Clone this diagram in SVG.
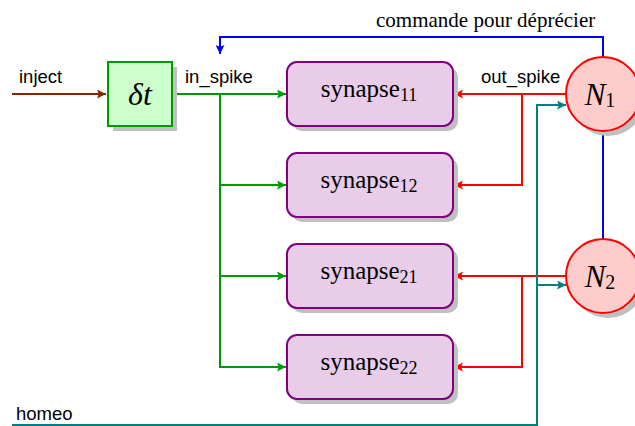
<svg xmlns="http://www.w3.org/2000/svg" width="635" height="426" viewBox="0 0 635 426">
<style>
.sans{font-family:"Liberation Sans",Arial,sans-serif;font-size:18.5px;fill:#000}
.serif{font-family:"Liberation Serif","Times New Roman",serif;fill:#000}
.syn{fill:#e8cce8;stroke:#800080;stroke-width:2}
.shadow{fill:#c0c0c0}
.neu{fill:#ffcccc;stroke:#ff0000;stroke-width:2}
.g{stroke:#009900;stroke-width:2;fill:none}
.r{stroke:#ff0000;stroke-width:2;fill:none}
.b{stroke:#0000ff;stroke-width:2;fill:none}
.t{stroke:#008080;stroke-width:2;fill:none}
.br{stroke:#8b2500;stroke-width:2;fill:none}
.st{font-size:25px}
.sub{font-size:18px}
</style>
<defs>
<marker id="ag" viewBox="0 0 10 10" refX="10" refY="5" markerWidth="10" markerHeight="9" markerUnits="userSpaceOnUse" orient="auto"><path d="M0,0 L10,5 L0,10 L2,5 Z" fill="#009900"/></marker>
<marker id="ar" viewBox="0 0 10 10" refX="10" refY="5" markerWidth="10" markerHeight="9" markerUnits="userSpaceOnUse" orient="auto"><path d="M0,0 L10,5 L0,10 L2,5 Z" fill="#ff0000"/></marker>
<marker id="ab" viewBox="0 0 10 10" refX="10" refY="5" markerWidth="10" markerHeight="9" markerUnits="userSpaceOnUse" orient="auto"><path d="M0,0 L10,5 L0,10 L2,5 Z" fill="#0000ff"/></marker>
<marker id="at" viewBox="0 0 10 10" refX="10" refY="5" markerWidth="10" markerHeight="9" markerUnits="userSpaceOnUse" orient="auto"><path d="M0,0 L10,5 L0,10 L2,5 Z" fill="#008080"/></marker>
<marker id="abr" viewBox="0 0 10 10" refX="10" refY="5" markerWidth="10" markerHeight="9" markerUnits="userSpaceOnUse" orient="auto"><path d="M0,0 L10,5 L0,10 L2,5 Z" fill="#8b2500"/></marker>
</defs>

<g id="connectors">
<path class="br" d="M12,94 H106" marker-end="url(#abr)"/>
<path class="g" d="M172,94 H286" marker-end="url(#ag)"/>
<path class="g" d="M220,94 V185 H286" marker-end="url(#ag)"/>
<path class="g" d="M220,185 V276 H286" marker-end="url(#ag)"/>
<path class="g" d="M220,276 V367 H286" marker-end="url(#ag)"/>
<path class="b" d="M603,57 V37 H220 V54" marker-end="url(#ab)"/>
<path class="b" d="M603,131 V239"/>
<path class="r" d="M566,94 H454" marker-end="url(#ar)"/>
<path class="r" d="M522,94 V185 H454" marker-end="url(#ar)"/>
<path class="r" d="M566,276 H454" marker-end="url(#ar)"/>
<path class="r" d="M522,276 V367 H454" marker-end="url(#ar)"/>
<path class="t" d="M12,425 H537 V105 H566" marker-end="url(#at)"/>
<path class="t" d="M537,285 H566" marker-end="url(#at)"/>
<text class="sans" x="19" y="83">inject</text>
<text class="sans" x="185" y="83">in_spike</text>
<text class="sans" x="481" y="83">out_spike</text>
<text class="sans" x="16" y="420">homeo</text>
<text class="serif" x="376" y="27" font-size="21">commande pour déprécier</text>
</g>

<g id="delay">
<rect class="shadow" x="113" y="67" width="64" height="64"/>
<rect x="108" y="62" width="64" height="64" fill="#ccffcc" stroke="#009900" stroke-width="2"/>
<text class="serif" x="140" y="105" font-size="32" font-style="italic" text-anchor="middle">δt</text>
</g>

<g id="synapse11">
<rect class="shadow" x="292" y="67" width="166" height="64" rx="10"/>
<rect class="syn" x="287" y="62" width="166" height="64" rx="10"/>
<text class="serif st" x="369" y="97" text-anchor="middle">synapse<tspan class="sub" dy="4">11</tspan></text>
</g>
<g id="synapse12">
<rect class="shadow" x="292" y="158" width="166" height="64" rx="10"/>
<rect class="syn" x="287" y="153" width="166" height="64" rx="10"/>
<text class="serif st" x="369" y="188" text-anchor="middle">synapse<tspan class="sub" dy="4">12</tspan></text>
</g>
<g id="synapse21">
<rect class="shadow" x="292" y="249" width="166" height="64" rx="10"/>
<rect class="syn" x="287" y="244" width="166" height="64" rx="10"/>
<text class="serif st" x="369" y="279" text-anchor="middle">synapse<tspan class="sub" dy="4">21</tspan></text>
</g>
<g id="synapse22">
<rect class="shadow" x="292" y="340" width="166" height="64" rx="10"/>
<rect class="syn" x="287" y="335" width="166" height="64" rx="10"/>
<text class="serif st" x="369" y="370" text-anchor="middle">synapse<tspan class="sub" dy="4">22</tspan></text>
</g>

<g id="N1">
<circle class="shadow" cx="608" cy="99" r="37"/>
<circle class="neu" cx="603" cy="94" r="37"/>
<text class="serif" x="600" y="105" font-size="31" font-style="italic" text-anchor="middle">N<tspan font-size="20" font-style="normal" dy="2">1</tspan></text>
</g>
<g id="N2">
<circle class="shadow" cx="608" cy="281" r="37"/>
<circle class="neu" cx="603" cy="276" r="37"/>
<text class="serif" x="600" y="287" font-size="31" font-style="italic" text-anchor="middle">N<tspan font-size="20" font-style="normal" dy="2">2</tspan></text>
</g>
</svg>
